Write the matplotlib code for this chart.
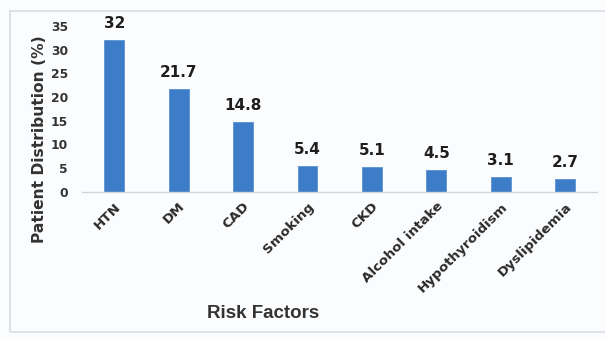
import matplotlib
matplotlib.use("Agg")
import matplotlib.pyplot as plt
from matplotlib.patches import Rectangle
from matplotlib.transforms import ScaledTranslation

categories = ["HTN", "DM", "CAD", "Smoking", "CKD", "Alcohol intake",
              "Hypothyroidism", "Dyslipidemia"]
values = [32, 21.7, 14.8, 5.4, 5.1, 4.5, 3.1, 2.7]
value_labels = ["32", "21.7", "14.8", "5.4", "5.1", "4.5", "3.1", "2.7"]
y_ticks = [0, 5, 10, 15, 20, 25, 30, 35]

plt.rcParams["font.family"] = ["Liberation Sans", "DejaVu Sans"]
plt.rcParams["font.weight"] = "bold"
heavy = ["DejaVu Sans"]

bg = "#fbfcfe"
fig = plt.figure(figsize=(6.05, 3.39), dpi=100, facecolor=bg)
ax = fig.add_axes([0.1355, 0.435, 0.852, 0.488])
ax.set_facecolor(bg)

# outer frame around the chart area
fig.patches.append(Rectangle((10 / 605, 1 - 332 / 339), 600 / 605, 321 / 339,
                             transform=fig.transFigure, fill=False,
                             edgecolor="#d9dde3", linewidth=1.2))

x = list(range(len(categories)))
ax.bar(x, values, width=0.31, color="#3d7cc6", edgecolor="#5b93d3", linewidth=0.6)

for xi, v, lab in zip(x, values, value_labels):
    ax.annotate(lab, (xi, v), xytext=(0, 6.5), textcoords="offset points",
                ha="center", va="bottom", fontsize=11, fontweight="bold",
                family=heavy, color="#1e1e1e", annotation_clip=False)

ax.set_xlim(-0.5, len(categories) - 0.5)
ax.set_ylim(0, 35)
ax.set_yticks(y_ticks)
ax.set_yticklabels([str(t) for t in y_ticks], fontsize=8.8, fontweight="bold",
                   family=heavy, color="#333333")
ax.set_xticks(x)
ax.set_xticklabels(categories, rotation=45, ha="right", rotation_mode="anchor",
                   fontsize=9.7, fontweight="bold", family=heavy, color="#2a2a2a")
offset = ScaledTranslation(1 / 72, -3 / 72, fig.dpi_scale_trans)
for lbl in ax.get_xticklabels():
    lbl.set_transform(lbl.get_transform() + offset)

ax.tick_params(axis="y", length=0, pad=10)
ax.tick_params(axis="x", length=0, pad=6)
for side in ["top", "right", "left"]:
    ax.spines[side].set_visible(False)
ax.spines["bottom"].set_color("#d0d4da")
ax.spines["bottom"].set_linewidth(1.0)

ax.set_ylabel("Patient Distribution (%)", fontsize=11.2, fontweight="bold",
              family=heavy, color="#333333", va="center")
ax.yaxis.set_label_coords(-0.083, 0.317)
fig.text(263 / 605, 1 - 313 / 339, "Risk Factors", ha="center", va="center",
         fontsize=13.5, fontweight="bold", color="#333333")

fig.savefig("out.png", dpi=100, facecolor=bg)
